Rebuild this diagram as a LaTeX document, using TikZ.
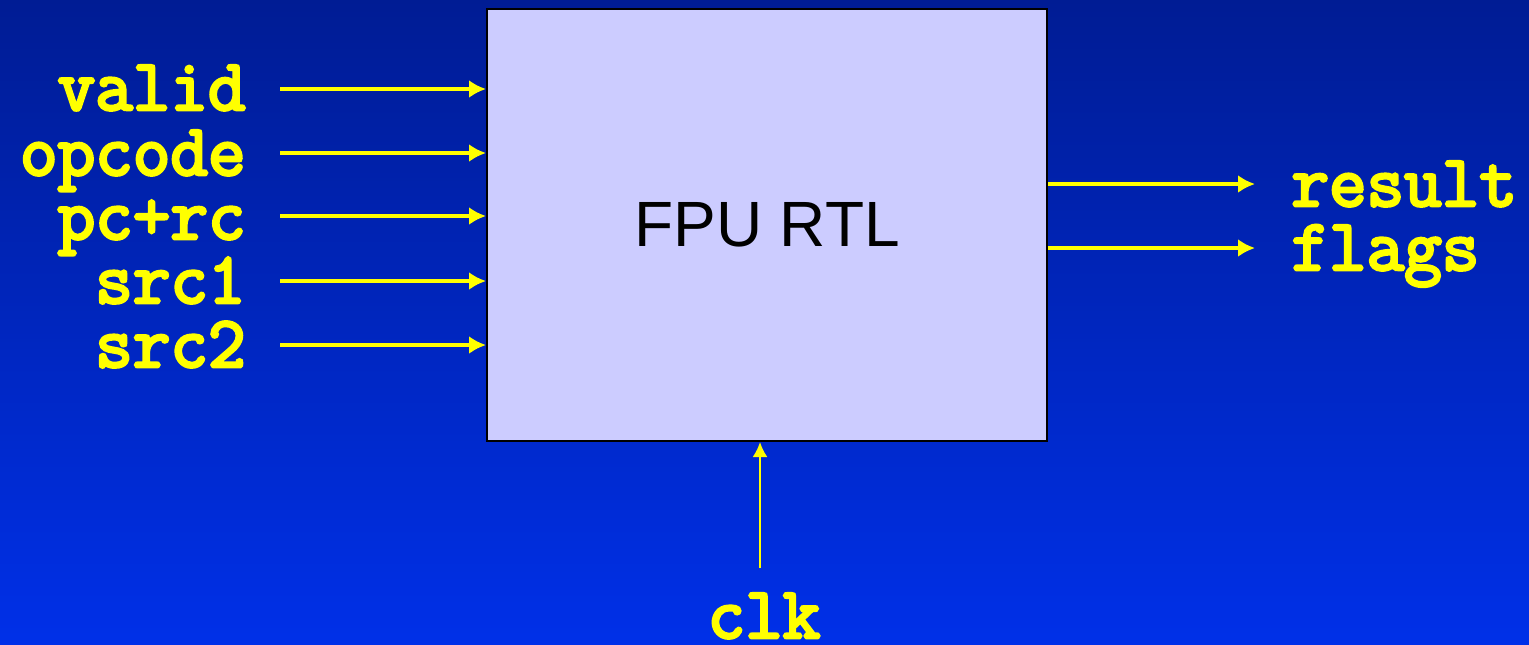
\documentclass[tikz,border=0pt]{standalone}
\usepackage{fontspec}
\setmainfont{Liberation Sans}
\newfontfamily\codefont[FakeBold=4]{Latin Modern Mono}
\usetikzlibrary{arrows.meta}
\definecolor{bgtop}{HTML}{001C94}
\definecolor{bgbot}{HTML}{0030E8}
\definecolor{boxfill}{HTML}{CCCCFF}
\definecolor{sigyellow}{HTML}{FFFF00}
\tikzset{
  sig/.style={font=\codefont\fontsize{36.5}{37}\selectfont, text=sigyellow, inner sep=0pt},
  busarrow/.style={draw=sigyellow, line width=2.4pt, -{Latex[length=8.5pt,width=9pt]}},
  clkarrow/.style={draw=sigyellow, line width=1.1pt, -{Latex[length=7.5pt,width=7.5pt]}},
}
\begin{document}
\begin{tikzpicture}[x=0.5pt,y=-0.5pt]
\useasboundingbox (0,0) rectangle (1529,644);
\shade[top color=bgtop, bottom color=bgbot] (0,0) rectangle (1529,644);
\node[draw=black, line width=1pt, fill=boxfill, minimum width=280pt, minimum height=216pt, inner sep=0pt,
  font=\fontsize{32}{34}\selectfont] (fpu) at (767,225) {FPU RTL};
% input labels
\node[sig, anchor=base east] (lvalid) at (246,110) {valid};
\node[sig, anchor=base east] (lopcode) at (246,175) {opcode};
\node[sig, anchor=base east] (lpcrc) at (246,239) {pc+rc};
\node[sig, anchor=base east] (lsrc1) at (246,303) {src1};
\node[sig, anchor=base east] (lsrc2) at (246,367) {src2};
% output labels
\node[sig, anchor=base west] (lresult) at (1291,206) {result};
\node[sig, anchor=base west] (lflags) at (1291,270) {flags};
% clock label
\node[sig, anchor=base] (lclk) at (764,638) {clk};
% arrow start points
\coordinate (svalid) at (280,89);
\coordinate (sopcode) at (280,153);
\coordinate (spcrc) at (280,216);
\coordinate (ssrc1) at (280,281);
\coordinate (ssrc2) at (280,345);
\coordinate (eresult) at (1255,184);
\coordinate (eflags) at (1255,248);
\coordinate (sclk) at (760,568);
\draw[busarrow] (svalid) -- (svalid -| fpu.west);
\draw[busarrow] (sopcode) -- (sopcode -| fpu.west);
\draw[busarrow] (spcrc) -- (spcrc -| fpu.west);
\draw[busarrow] (ssrc1) -- (ssrc1 -| fpu.west);
\draw[busarrow] (ssrc2) -- (ssrc2 -| fpu.west);
\draw[busarrow] (eresult -| fpu.east) -- (eresult);
\draw[busarrow] (eflags -| fpu.east) -- (eflags);
\draw[clkarrow] (sclk) -- (sclk |- fpu.south);
\end{tikzpicture}
\end{document}
